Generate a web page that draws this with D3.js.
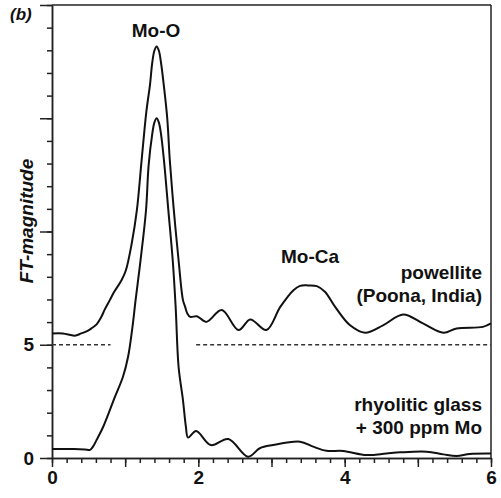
<!DOCTYPE html>
<html>
<head>
<meta charset="utf-8">
<script src="https://cdn.jsdelivr.net/npm/d3@7"></script>
<style>
  body { margin: 0; background: #fff; }
  .chart { width: 501px; height: 498px; }
  text { font-family: "Liberation Sans", Arial, sans-serif; font-weight: bold; fill: #111; }
  .axis path, .axis line { stroke: #222; stroke-width: 1.5px; }
  .axis text { font-size: 19px; }
  .line { fill: none; stroke: #111; stroke-width: 2px; }
</style>
</head>
<body>
<div class="chart"></div>
<script>
// powellite (Poona, India), shifted up by 5
var powelliteR  = [0, 0.15, 0.31, 0.40, 0.48, 0.55, 0.61, 0.67, 0.72, 0.79, 0.84, 0.95, 1.01, 1.09, 1.16,
                   1.225, 1.29, 1.34, 1.37, 1.40, 1.43, 1.46, 1.49, 1.53, 1.575, 1.61, 1.665, 1.73, 1.79, 1.82,
                   1.85, 1.89, 1.98, 2.11, 2.32, 2.55, 2.71, 2.93, 3.12, 3.30, 3.39, 3.50, 3.62, 3.73, 3.87,
                   4.07, 4.28, 4.53, 4.80, 5.07, 5.35, 5.53, 5.89, 6.0];
var powelliteFT = [5.5, 5.5, 5.4, 5.5, 5.6, 5.75, 5.9, 6.2, 6.55, 6.97, 7.28, 7.85, 8.29, 9.48, 10.94,
                   13.15, 15.3, 16.5, 17.45, 17.99, 18.17, 17.99, 17.45, 16.4, 15.0, 13.15, 10.94, 8.73, 6.97, 6.67,
                   6.38, 6.23, 6.26, 6.01, 6.53, 5.65, 6.12, 5.65, 6.67, 7.41, 7.6, 7.62, 7.59, 7.34, 6.67,
                   5.87, 5.53, 5.87, 6.34, 5.94, 5.53, 5.72, 5.79, 5.94];

// rhyolitic glass + 300 ppm Mo
var glassR  = [0, 0.3, 0.45, 0.52, 0.56, 0.61, 0.70, 0.86, 0.97, 1.04, 1.10, 1.14, 1.21, 1.285, 1.32,
               1.37, 1.40, 1.43, 1.46, 1.49, 1.53, 1.59, 1.65, 1.69, 1.73, 1.79, 1.83, 1.86, 1.97, 2.17,
               2.41, 2.68, 2.84, 3.02, 3.39, 3.57, 3.75, 3.98, 4.30, 4.57, 4.76, 5.12, 5.35, 5.53, 5.71, 6.0];
var glassFT = [0.4, 0.4, 0.38, 0.36, 0.5, 0.8, 1.38, 2.7, 3.59, 4.47, 5.79, 6.9, 8.73, 10.94, 12.9,
               14.3, 14.82, 15.0, 14.82, 14.3, 13.15, 10.94, 8.73, 6.67, 4.03, 2.56, 1.38, 0.9, 1.19, 0.57,
               0.84, 0.06, 0.43, 0.57, 0.72, 0.5, 0.32, 0.31, 0.13, 0.2, 0.25, 0.28, 0.16, 0.09, 0.18, 0.2];

var xMajor = [0, 1, 2, 3, 4, 5, 6];
var xLabels = [0, 2, 4, 6];
var yMajor = [0, 5, 10, 15, 20];
var yLabels = [0, 5];
var baseline = 5;

var margin = {top: 5, right: 10, bottom: 40, left: 52},
    width = 501 - margin.left - margin.right,
    height = 498 - margin.top - margin.bottom;

var x = d3.scaleLinear().domain([0, 6]).range([0, width]);
var y = d3.scaleLinear().domain([0, 20]).range([height, 0]);

var svg = d3.select(".chart").append("svg")
    .attr("width", width + margin.left + margin.right)
    .attr("height", height + margin.top + margin.bottom)
  .append("g")
    .attr("transform", "translate(" + margin.left + "," + margin.top + ")");

// minor ticks
svg.append("g")
    .attr("class", "x axis")
    .attr("transform", "translate(0," + height + ")")
    .call(d3.axisBottom(x).tickValues(d3.range(0, 6.01, 0.2)).tickSize(5).tickSizeOuter(0).tickFormat(""));
svg.append("g")
    .attr("class", "y axis")
    .call(d3.axisLeft(y).tickValues(d3.range(0, 21)).tickSize(5).tickSizeOuter(0).tickFormat(""));

// major ticks + labels
svg.append("g")
    .attr("class", "x axis")
    .attr("transform", "translate(0," + height + ")")
    .call(d3.axisBottom(x).tickValues(xMajor).tickSize(9).tickSizeOuter(0).tickPadding(4)
      .tickFormat(function(d) { return xLabels.indexOf(d) >= 0 ? d : ""; }));
svg.append("g")
    .attr("class", "y axis")
    .call(d3.axisLeft(y).tickValues(yMajor).tickSize(12).tickSizeOuter(0).tickPadding(6)
      .tickFormat(function(d) { return yLabels.indexOf(d) >= 0 ? d : ""; }));

// frame top and right
svg.append("line")
    .attr("x1", 0).attr("x2", width).attr("y1", 0).attr("y2", 0)
    .attr("stroke", "#222").attr("stroke-width", 1.5);
svg.append("line")
    .attr("x1", width).attr("x2", width).attr("y1", 0).attr("y2", height)
    .attr("stroke", "#222").attr("stroke-width", 1.5);

// dashed baseline of the shifted spectrum
[[0, 0.8], [1.97, 6]].forEach(function(seg) {
  svg.append("line")
      .attr("x1", x(seg[0])).attr("x2", x(seg[1]))
      .attr("y1", y(baseline)).attr("y2", y(baseline))
      .attr("stroke", "#333").attr("stroke-width", 1.3)
      .attr("stroke-dasharray", "4,3");
});

var line = d3.line()
    .curve(d3.curveCatmullRom)
    .x(function(d) { return x(d[0]); })
    .y(function(d) { return y(d[1]); });

svg.append("path")
    .datum(d3.zip(glassR, glassFT))
    .attr("class", "line")
    .attr("d", line);

svg.append("path")
    .datum(d3.zip(powelliteR, powelliteFT))
    .attr("class", "line")
    .attr("d", line);

// annotations
var notes = [
  {t: "Mo-O", x: 156, y: 37, a: "middle"},
  {t: "Mo-Ca", x: 310, y: 263, a: "middle"},
  {t: "powellite", x: 482, y: 279, a: "end"},
  {t: "(Poona, India)", x: 482, y: 302, a: "end"},
  {t: "rhyolitic glass", x: 482, y: 411, a: "end"},
  {t: "+ 300 ppm Mo", x: 482, y: 434, a: "end"}
];
var root = d3.select(".chart svg");
root.selectAll(".note")
    .data(notes)
    .enter().append("text")
    .attr("class", "note")
    .attr("x", function(d) { return d.x; })
    .attr("y", function(d) { return d.y; })
    .attr("text-anchor", function(d) { return d.a; })
    .style("font-size", "19px")
    .text(function(d) { return d.t; });

root.append("text")
    .attr("x", 10).attr("y", 20)
    .style("font-size", "17px").style("font-style", "italic")
    .text("(b)");

root.append("text")
    .attr("transform", "translate(33,221) rotate(-90)")
    .attr("text-anchor", "middle")
    .style("font-size", "19px").style("font-style", "italic")
    .text("FT-magnitude");
</script>
</body>
</html>
